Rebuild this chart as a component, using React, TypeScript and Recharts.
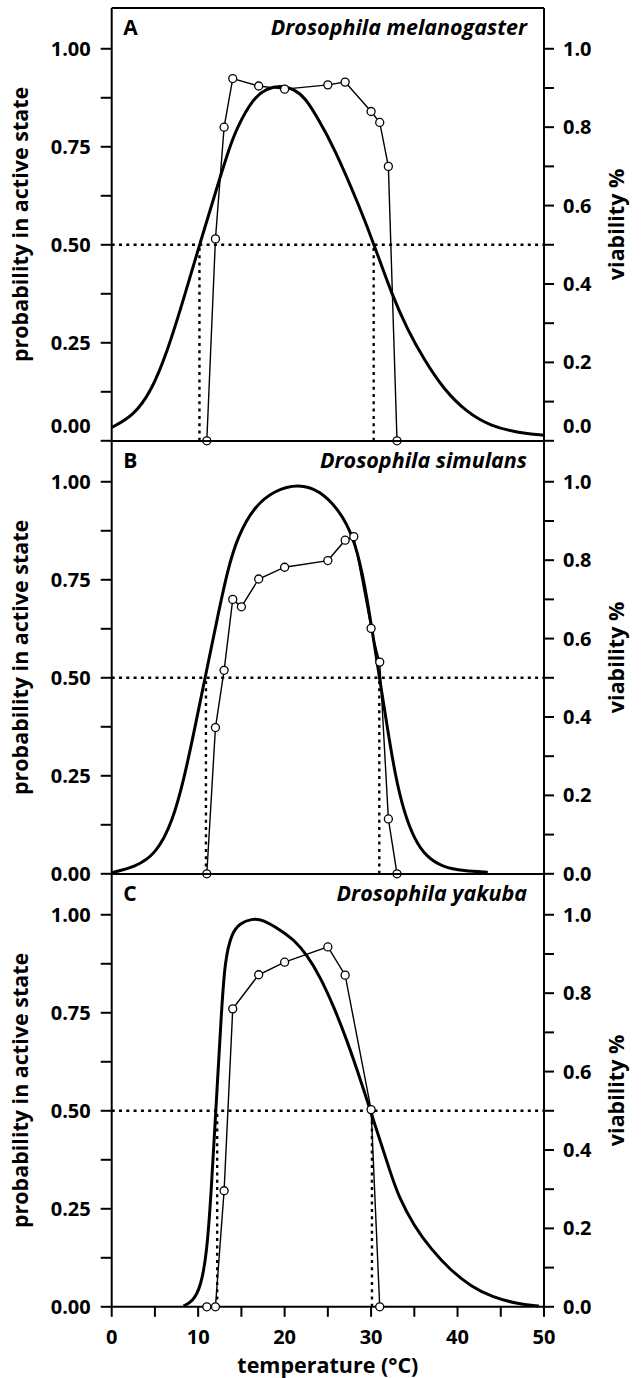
import React from "react";
import { ComposedChart, Line, XAxis, YAxis, ReferenceLine } from "recharts";

const FONT = "'Open Sans', 'Noto Sans', sans-serif";

// axis ticks
const xTicks = [0, 5, 10, 15, 20, 25, 30, 35, 40, 45, 50];
const probTicks = [0, 0.125, 0.25, 0.375, 0.5, 0.625, 0.75, 0.875, 1];
const viabTicks = [0, 0.1, 0.2, 0.3, 0.4, 0.5, 0.6, 0.7, 0.8, 0.9, 1];

// A - Drosophila melanogaster
const tempA = [11, 12, 13, 14, 17, 20, 25, 27, 30, 31, 32, 33];
const viabA = [0, 0.515, 0.8, 0.924, 0.905, 0.897, 0.908, 0.915, 0.84, 0.812, 0.7, 0];
const curveTempA = [0, 2.5, 4.5, 6.4, 8.3, 10.2, 12.2, 13.5, 14.5, 16.4, 17.9, 19.5, 21, 22.4, 23.75, 25.7, 28.8, 30.3, 32.4, 34.2, 36.1, 38.4, 41.1, 43.8, 46.9, 50];
const curveProbA = [0.034, 0.064, 0.123, 0.225, 0.36, 0.503, 0.648, 0.74, 0.8, 0.875, 0.898, 0.907, 0.898, 0.875, 0.826, 0.75, 0.59, 0.503, 0.373, 0.284, 0.208, 0.131, 0.072, 0.038, 0.021, 0.014];
const crossA = [10.15, 30.3];

// B - Drosophila simulans
const tempB = [11, 12, 13, 14, 15, 17, 20, 25, 27, 28, 30, 31, 32, 33];
const viabB = [0, 0.373, 0.519, 0.7, 0.681, 0.752, 0.782, 0.799, 0.851, 0.86, 0.626, 0.54, 0.14, 0];
const curveTempB = [0, 2.7, 5.1, 7, 8.4, 9.6, 10.8, 12.2, 13.4, 14.6, 16.5, 18.8, 21.6, 24.1, 26.4, 27.9, 29, 30, 30.9, 31.9, 32.8, 33.8, 35, 36.4, 38.3, 40.7, 43.5];
const curveProbB = [0.003, 0.017, 0.05, 0.13, 0.245, 0.37, 0.5, 0.65, 0.775, 0.862, 0.937, 0.978, 0.995, 0.978, 0.925, 0.862, 0.77, 0.64, 0.51, 0.37, 0.25, 0.158, 0.088, 0.043, 0.017, 0.007, 0.004];
const crossB = [10.9, 30.95];

// C - Drosophila yakuba
const tempC = [11, 12, 13, 14, 17, 20, 25, 27, 30, 31];
const viabC = [0, 0, 0.296, 0.76, 0.847, 0.879, 0.918, 0.846, 0.503, 0];
const curveTempC = [8.3, 9.35, 10.3, 11, 11.5, 12.05, 12.7, 13.1, 13.85, 14.8, 16.2, 17.5, 19.5, 21.1, 22.6, 24.1, 25.7, 27.2, 28.4, 29.9, 31.1, 32.2, 33.2, 35, 36.9, 39.2, 41.6, 44, 46.8, 49.4];
const curveProbC = [0.002, 0.013, 0.05, 0.136, 0.289, 0.503, 0.756, 0.884, 0.952, 0.978, 0.99, 0.988, 0.961, 0.936, 0.897, 0.842, 0.765, 0.68, 0.604, 0.502, 0.42, 0.345, 0.28, 0.205, 0.148, 0.093, 0.051, 0.025, 0.008, 0.002];
const crossC = [12.2, 30.1];

const pairs = (ts: number[], vs: number[], key: string) => ts.map((t, i) => ({ t, [key]: vs[i] }));

const panels = [
  { id: "A", species: "Drosophila melanogaster", obs: pairs(tempA, viabA, "v"), curve: pairs(curveTempA, curveProbA, "p"), cross: crossA },
  { id: "B", species: "Drosophila simulans", obs: pairs(tempB, viabB, "v"), curve: pairs(curveTempB, curveProbB, "p"), cross: crossB },
  { id: "C", species: "Drosophila yakuba", obs: pairs(tempC, viabC, "v"), curve: pairs(curveTempC, curveProbC, "p"), cross: crossC },
];

const PAGE_W = 643;
const PLOT_LEFT = 111.7;
const PLOT_RIGHT = 544;
const LEFT_W = 100;
const RIGHT_W = 90;
const PANEL_TOP = 8.3;
const PANEL_H = 432.8;
const PAD = 12;
const X_AXIS_H = 1378 - (PANEL_TOP + 3 * PANEL_H);
const Y_MAX = 1.104;

const near = (v: number, step: number) => Math.abs(v / step - Math.round(v / step)) < 1e-6;
const txt = { fontFamily: FONT, fontWeight: 700, fill: "#000" } as const;

const leftTick = (shiftZero: boolean) => (props: any) => {
  const { x, y, payload } = props;
  const v = payload.value as number;
  if (!near(v, 0.25)) return <g />;
  const dy = shiftZero && v === 0 ? -15 : 0;
  return (
    <text x={x} y={y + dy + 7} textAnchor="end" fontSize={20} {...txt}>
      {v.toFixed(2)}
    </text>
  );
};

const rightTick = (shiftZero: boolean) => (props: any) => {
  const { x, y, payload } = props;
  const v = payload.value as number;
  if (!near(v, 0.2)) return <g />;
  const dy = shiftZero && v === 0 ? -15 : 0;
  return (
    <text x={x} y={y + dy + 7} textAnchor="start" fontSize={20} {...txt}>
      {v.toFixed(1)}
    </text>
  );
};

const xTick = (props: any) => {
  const { x, y, payload } = props;
  const v = payload.value as number;
  if (v % 10 !== 0) return <g />;
  return (
    <text x={x} y={y + 14} textAnchor="middle" fontSize={20} {...txt}>
      {v}
    </text>
  );
};

const vTitle = (text: string, cx: number) => (props: any) => {
  const vb = props.viewBox;
  const cy = vb.y + vb.height / 2;
  return (
    <text transform={`translate(${cx}, ${cy}) rotate(-90)`} dy={5.5} textAnchor="middle" fontSize={21.5} {...txt}>
      {text}
    </text>
  );
};

const xTitle = (props: any) => {
  const vb = props.viewBox;
  return (
    <text x={vb.x + vb.width / 2} y={vb.y + 66} textAnchor="middle" fontSize={21.5} {...txt}>
      temperature (°C)
    </text>
  );
};

const heading = (letter: string, species: string) => (props: any) => {
  const vb = props.viewBox;
  const base = vb.y + 27;
  return (
    <g>
      <text x={vb.x + 11.5} y={base} fontSize={21} {...txt}>
        {letter}
      </text>
      <text x={vb.x + vb.width - 17} y={base} textAnchor="end" fontSize={21.5} fontStyle="italic" {...txt}>
        {species}
      </text>
    </g>
  );
};

const axisStroke = { stroke: "#000", strokeWidth: 2 };

function Panel({ cfg, index }: { cfg: (typeof panels)[number]; index: number }) {
  const isLast = index === panels.length - 1;
  const top = PANEL_TOP + index * PANEL_H;
  const bottomMargin = isLast ? 0 : PAD;
  const height = PAD + PANEL_H + (isLast ? X_AXIS_H : PAD);
  const shiftZero = cfg.id === "A";
  return (
    <div style={{ position: "absolute", left: 0, top: top - PAD }}>
      <ComposedChart
        width={PAGE_W}
        height={height}
        margin={{ top: PAD, bottom: bottomMargin, left: PLOT_LEFT - LEFT_W, right: PAGE_W - PLOT_RIGHT - RIGHT_W }}
      >
        <XAxis
          type="number"
          dataKey="t"
          domain={[0, 50]}
          ticks={xTicks}
          height={isLast ? X_AXIS_H : 0}
          axisLine={axisStroke}
          tickLine={isLast ? axisStroke : false}
          tickSize={10}
          tickMargin={13}
          tick={isLast ? xTick : false}
          label={isLast ? xTitle : undefined}
        />
        <YAxis
          yAxisId="p"
          orientation="left"
          width={LEFT_W}
          domain={[0, Y_MAX]}
          ticks={probTicks}
          axisLine={axisStroke}
          tickLine={axisStroke}
          tickSize={11}
          tickMargin={10}
          tick={leftTick(shiftZero)}
          label={vTitle("probability in active state", 22)}
        />
        <YAxis
          yAxisId="v"
          orientation="right"
          width={RIGHT_W}
          domain={[0, Y_MAX]}
          ticks={viabTicks}
          axisLine={axisStroke}
          tickLine={axisStroke}
          tickSize={10}
          tickMargin={9}
          tick={rightTick(shiftZero)}
          label={vTitle("viability %", 619)}
        />
        <ReferenceLine yAxisId="p" y={Y_MAX} ifOverflow="visible" stroke="#000" strokeWidth={2} label={heading(cfg.id, cfg.species)} />
        <ReferenceLine yAxisId="p" y={0.5} stroke="#000" strokeWidth={2.4} strokeDasharray="3 4.3" />
        {cfg.cross.map((t) => (
          <ReferenceLine
            key={t}
            yAxisId="p"
            segment={[
              { x: t, y: 0 },
              { x: t, y: 0.5 },
            ]}
            stroke="#000"
            strokeWidth={2.4}
            strokeDasharray="3 4.3"
          />
        ))}
        <Line
          yAxisId="p"
          data={cfg.curve}
          dataKey="p"
          type="basis"
          stroke="#000"
          strokeWidth={3}
          dot={false}
          activeDot={false}
          isAnimationActive={false}
        />
        <Line
          yAxisId="v"
          data={cfg.obs}
          dataKey="v"
          type="linear"
          stroke="#000"
          strokeWidth={1.4}
          dot={{ r: 4, fill: "#fff", stroke: "#000", strokeWidth: 1.3 }}
          activeDot={false}
          isAnimationActive={false}
        />
      </ComposedChart>
    </div>
  );
}

export default function App() {
  return (
    <div style={{ position: "absolute", left: 0, top: 0, width: PAGE_W, height: 1378, background: "#fff" }}>
      {panels.map((cfg, i) => (
        <Panel key={cfg.id} cfg={cfg} index={i} />
      ))}
    </div>
  );
}
